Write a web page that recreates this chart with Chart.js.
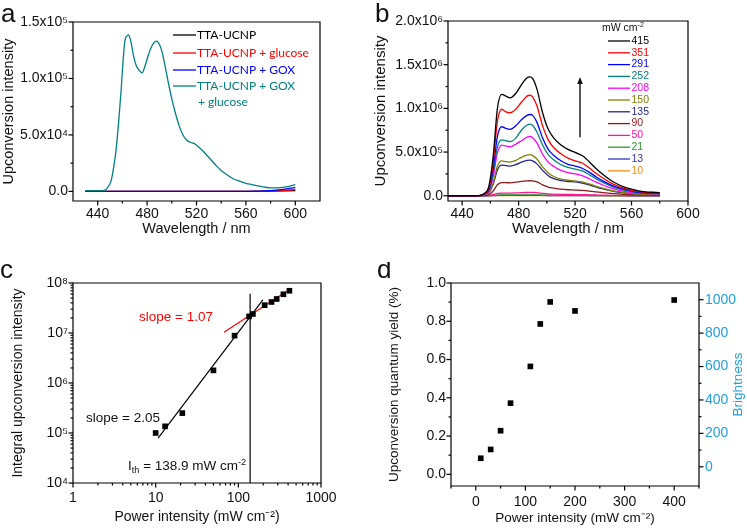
<!DOCTYPE html>
<html><head><meta charset="utf-8">
<script src="https://cdn.jsdelivr.net/npm/chart.js@4.4.1/dist/chart.umd.min.js"></script>
<style>
html,body{margin:0;padding:0;background:#fff;}
#wrap{position:relative;width:747px;height:529px;overflow:hidden;background:#fff;}
#wrap canvas{position:absolute;}
</style></head><body>
<div id="wrap">
<canvas id="ca" width="374" height="262" style="left:0px;top:0px"></canvas>
<canvas id="cb" width="373" height="262" style="left:374px;top:0px"></canvas>
<canvas id="cc" width="374" height="267" style="left:0px;top:262px"></canvas>
<canvas id="cd" width="373" height="267" style="left:374px;top:262px"></canvas>
</div>
<script>
// ---------------- Panel a data ----------------
const wlA = [430,440,445,449,451,453,455,457,459,460,462,464,465,467,469,471,473,476,478,480,482,484,486,488,490,492,494,496,498,500,503,506,509,512,515,518,521,525,530,535,540,545,550,555,560,565,570,575,580,585,590,595,600];
const aGoxGlucose = [600,600,800,5000,1.0e4,2.2e4,3.8e4,6.2e4,9.0e4,1.07e5,1.33e5,1.38e5,1.385e5,1.32e5,1.2e5,1.12e5,1.08e5,1.05e5,1.1e5,1.17e5,1.24e5,1.29e5,1.32e5,1.33e5,1.3e5,1.24e5,1.14e5,1.03e5,9.2e4,8.2e4,6.9e4,5.8e4,5.0e4,4.55e4,4.35e4,4.25e4,4.0e4,3.6e4,3.0e4,2.4e4,1.85e4,1.45e4,1.1e4,9.0e3,7.2e3,6.0e3,4.8e3,3.8e3,3.2e3,3.2e3,3.6e3,4.5e3,6.0e3];
const wlAflat = [430,500,560,580,590,600];
const aUcnp = [0,0,0,200,400,800];
const aGlucose = [0,0,0,300,800,1500];
const aGox = [0,0,0,700,1800,3400];
const aNames = ['TTA-UCNP','TTA-UCNP + glucose','TTA-UCNP + GOX','TTA-UCNP + GOX','+ glucose'];
const aColors = ['#000000','#FF0000','#0000FF','#008080'];
const aYTicks = [0,50000,100000,150000];
const aYLabels = ['0.0','5.0x10⁴','1.0x10⁵','1.5x10⁵'];
const aYMinor = [25000,75000,125000];
const aXTicks = [440,480,520,560,600];
const aXLabels = ['440','480','520','560','600'];
const aXMinor = [460,500,540,580];

// ---------------- Panel b data ----------------
const wlB = [430,445,452,456,459,462,465,468,471,474,478,482,486,488,490,493,497,501,505,510,515,520,525,530,535,540,545,550,555,560,565,570,575,580];
const b415 = [0,0,2e3,3e4,1.1e5,4.5e5,1.0e6,1.16e6,1.14e6,1.12e6,1.17e6,1.27e6,1.35e6,1.36e6,1.34e6,1.22e6,9.5e5,7.6e5,6.6e5,5.8e5,5.3e5,4.96e5,4.6e5,3.9e5,3.1e5,2.4e5,1.8e5,1.35e5,1.0e5,7.5e4,5.5e4,4.5e4,4.0e4,3.5e4];
const b351 = [0,0,2e3,2.5e4,9e4,3.8e5,8.5e5,9.9e5,9.6e5,9.5e5,9.9e5,1.07e6,1.14e6,1.15e6,1.13e6,1.03e6,8.0e5,6.4e5,5.5e5,4.8e5,4.3e5,4.0e5,3.75e5,3.2e5,2.55e5,2.0e5,1.5e5,1.12e5,8.4e4,6.3e4,4.7e4,3.9e4,3.4e4,3.0e4];
const b291 = [0,0,1.5e3,2e4,7.5e4,3.1e5,6.8e5,7.9e5,7.7e5,7.6e5,8.0e5,8.7e5,9.2e5,9.3e5,9.2e5,8.4e5,6.6e5,5.3e5,4.6e5,4.0e5,3.6e5,3.4e5,3.15e5,2.7e5,2.15e5,1.68e5,1.27e5,9.5e4,7.2e4,5.4e4,4.0e4,3.3e4,2.9e4,2.6e4];
const b252 = [0,0,1.3e3,1.7e4,6.3e4,2.6e5,5.6e5,6.4e5,6.3e5,6.2e5,6.6e5,7.5e5,8.1e5,8.2e5,8.05e5,7.3e5,5.8e5,4.7e5,4.1e5,3.55e5,3.25e5,3.05e5,2.85e5,2.42e5,1.93e5,1.5e5,1.13e5,8.5e4,6.3e4,4.8e4,3.6e4,3.0e4,2.6e4,2.3e4];
const b208 = [0,0,1e3,1.4e4,5.2e4,2.2e5,4.9e5,5.8e5,5.7e5,5.6e5,5.9e5,6.3e5,6.7e5,6.8e5,6.65e5,6.05e5,4.75e5,3.85e5,3.35e5,2.9e5,2.65e5,2.5e5,2.3e5,1.95e5,1.55e5,1.2e5,9.0e4,6.8e4,5.0e4,3.8e4,2.9e4,2.4e4,2.1e4,1.9e4];
const b150 = [0,0,700,1e4,3.6e4,1.5e5,3.4e5,4.0e5,3.9e5,3.85e5,4.05e5,4.4e5,4.65e5,4.7e5,4.6e5,4.2e5,3.3e5,2.6e5,2.2e5,1.9e5,1.78e5,1.7e5,1.58e5,1.35e5,1.08e5,8.4e4,6.3e4,4.7e4,3.5e4,2.6e4,2.0e4,1.6e4,1.4e4,1.3e4];
const b135 = [0,0,600,9e3,3.2e4,1.3e5,2.95e5,3.5e5,3.45e5,3.4e5,3.55e5,3.85e5,4.05e5,4.08e5,4.0e5,3.65e5,2.9e5,2.3e5,1.95e5,1.72e5,1.63e5,1.58e5,1.45e5,1.25e5,1.0e5,7.8e4,5.8e4,4.3e4,3.2e4,2.4e4,1.8e4,1.5e4,1.3e4,1.2e4];
const b90 = [0,0,300,4e3,1.4e4,5.5e4,1.25e5,1.5e5,1.5e5,1.48e5,1.55e5,1.65e5,1.71e5,1.72e5,1.7e5,1.58e5,1.25e5,1.0e5,8.8e4,7.6e4,6.9e4,6.5e4,6.1e4,5.4e4,4.5e4,3.6e4,2.8e4,2.1e4,1.6e4,1.2e4,9e3,7e3,6e3,5e3];
const b50 = [0,0,100,1e3,3e3,1.2e4,2.6e4,3.1e4,3.1e4,3.05e4,3.2e4,3.5e4,3.75e4,3.8e4,3.75e4,3.5e4,2.8e4,2.2e4,1.9e4,1.65e4,1.5e4,1.4e4,1.3e4,1.1e4,9e3,7e3,5.5e3,4e3,3e3,2.3e3,1.8e3,1.5e3,1.3e3,1.2e3];
const b21 = [0,0,0,300,900,3.5e3,7.5e3,9e3,9e3,8.8e3,9.3e3,1.02e4,1.09e4,1.1e4,1.08e4,1.0e4,8e3,6.4e3,5.5e3,4.8e3,4.4e3,4.1e3,3.8e3,3.2e3,2.6e3,2e3,1.6e3,1.2e3,900,700,500,400,400,300];
const b13 = [0,0,0,100,400,1.6e3,3.4e3,4.1e3,4.1e3,4e3,4.2e3,4.6e3,4.9e3,5e3,4.9e3,4.5e3,3.6e3,2.9e3,2.5e3,2.2e3,2e3,1.9e3,1.7e3,1.5e3,1.2e3,900,700,500,400,300,250,200,150,150];
const b10 = [0,0,0,50,150,600,1.3e3,1.6e3,1.6e3,1.55e3,1.65e3,1.8e3,1.95e3,2e3,1.95e3,1.8e3,1.45e3,1.15e3,1e3,880,800,750,700,600,480,370,280,210,160,120,100,80,70,60];
const bSeries = [b415,b351,b291,b252,b208,b150,b135,b90,b50,b21,b13,b10];
const bPowers = ['415','351','291','252','208','150','135','90','50','21','13','10'];
const bColors = ['#000000','#FF0000','#0000FF','#008080','#FF00FF','#808000','#25258F','#8B1A1A','#FF1493','#2A9A2A','#3434C0','#FF8C1A'];
const bYTicks = [0,500000,1000000,1500000,2000000];
const bYLabels = ['0.0','5.0x10⁵','1.0x10⁶','1.5x10⁶','2.0x10⁶'];
const bYMinor = [250000,750000,1250000,1750000];
const bXTicks = [440,480,520,560,600];
const bXLabels = ['440','480','520','560','600'];
const bXMinor = [460,500,540,580];

// ---------------- Panel c data ----------------
const cPower = [10,13,21,50,90,135,150,208,252,291,351,415];
const cIntegral = [1.0e5,1.36e5,2.5e5,1.79e6,8.85e6,2.15e7,2.4e7,3.6e7,4.17e7,4.79e7,5.95e7,7.0e7];
const cFitLowX = [10.7,198];
const cFitLowY = [7.9e4,4.6e7];
const cFitHighX = [67,425];
const cFitHighY = [1.03e7,7.6e7];
const cThreshX = [138.9,138.9];
const cThreshY = [1e4,6.1e7];
const cXTicks = [1,10,100,1000];
const cXLabels = ['1','10','100','1000'];
const cYTicks = [1e4,1e5,1e6,1e7,1e8];
const cYLabels = ['10⁴','10⁵','10⁶','10⁷','10⁸'];

// ---------------- Panel d data ----------------
const dPower = [10,30,50,70,110,130,150,200,400];
const dQY = [0.084,0.130,0.228,0.372,0.564,0.786,0.901,0.854,0.911];
const dXTicks = [0,100,200,300,400];
const dXLabels = ['0','100','200','300','400'];
const dXMinor = [-50,50,150,250,350,450];
const dYTicks = [0,0.2,0.4,0.6,0.8,1.0];
const dYLabels = ['0.0','0.2','0.4','0.6','0.8','1.0'];
const dYMinor = [0.1,0.3,0.5,0.7,0.9];
const dY2Ticks = [0,200,400,600,800,1000];
const dY2Labels = ['0','200','400','600','800','1000'];
const dY2Minor = [100,300,500,700,900];

// ---------------- helpers ----------------
const FONT = "'Liberation Sans', Arial, Helvetica, sans-serif";
const LEG_FONT = "Lato, 'Open Sans', sans-serif";
const INK = '#111111';
const BLUE_AX = '#1E9FE3';
const AX_W = 1.2;
const pts = (xs, ys) => xs.map((x, i) => ({x: x, y: ys[i]}));

function scaleCfg(o) {
  return {
    type: o.type || 'linear',
    position: o.position,
    min: o.min, max: o.max,
    border: {display: false},
    grid: {display: false, drawTicks: false, tickLength: 0},
    ticks: {
      color: o.tickColor || INK,
      font: {family: FONT, size: o.tickSize || 14},
      padding: o.tickPad !== undefined ? o.tickPad : 5,
      autoSkip: false, maxRotation: 0, minRotation: 0,
      callback: (v, i) => o.labels[i]
    },
    title: o.title ? {display: true, text: o.title, color: INK,
      font: {family: FONT, size: o.titleSize || 14.5, lineHeight: 1}, padding: o.titlePad} : {display: false},
    afterBuildTicks: (s) => { s.ticks = o.ticks.map(v => ({value: v})); },
    afterFit: (s) => {
      if (s.isHorizontal()) s.height = o.size; else s.width = o.size;
      s.paddingLeft = 0; s.paddingRight = 0; s.paddingTop = 0; s.paddingBottom = 0;
    }
  };
}

function decorPlugin(major, minor, extra) {
  return {
    id: 'decor',
    afterDraw(chart) {
      const ctx = chart.ctx, ca = chart.chartArea;
      ctx.save();
      ctx.strokeStyle = '#000000'; ctx.lineWidth = AX_W; ctx.setLineDash([]);
      const L = Math.round(ca.left), R = Math.round(ca.right), T = Math.round(ca.top), B = Math.round(ca.bottom);
      const tick = (set, len) => {
        for (const id in set) {
          const s = chart.scales[id];
          for (const v of set[id]) {
            const p = s.getPixelForValue(v);
            ctx.beginPath();
            if (s.position === 'left') { ctx.moveTo(L, p); ctx.lineTo(L - len, p); }
            else if (s.position === 'right') { ctx.moveTo(R, p); ctx.lineTo(R + len, p); }
            else { ctx.moveTo(p, B); ctx.lineTo(p, B + len); }
            ctx.stroke();
          }
        }
      };
      tick(major, 4.5);
      tick(minor, 2.5);
      ctx.beginPath();
      ctx.rect(L, T, R - L, B - T);
      ctx.stroke();
      if (extra) extra(chart, ctx);
      ctx.restore();
    }
  };
}

function logMinor(lo, hi) {
  const out = [];
  for (let d = lo; d < hi; d *= 10) for (let k = 2; k <= 9; k++) out.push(d * k);
  return out;
}

function rich(ctx, x, y, parts, size, color, family) {
  ctx.fillStyle = color; ctx.textBaseline = 'alphabetic'; ctx.textAlign = 'left';
  for (const p of parts) {
    const s = (p.sup || p.sub) ? size * 0.68 : size;
    ctx.font = s + 'px ' + family;
    const dy = p.sup ? -size * 0.4 : (p.sub ? size * 0.25 : 0);
    ctx.fillText(p.t, x, y + dy);
    x += ctx.measureText(p.t).width;
  }
  return x;
}

function panelLetter(ctx, letter, x, y) {
  ctx.fillStyle = INK; ctx.font = '26px ' + FONT; ctx.textAlign = 'left'; ctx.textBaseline = 'alphabetic';
  ctx.fillText(letter, x, y);
}

const baseOpts = {
  responsive: false, animation: false, events: [],
  plugins: {legend: {display: false}, tooltip: {enabled: false}}
};

// ---------------- Chart a ----------------
new Chart(document.getElementById('ca'), {
  type: 'line',
  data: {datasets: [
    {data: pts(wlAflat, aUcnp), borderColor: aColors[0], borderWidth: 1.3, pointRadius: 0, order: 3},
    {data: pts(wlAflat, aGlucose), borderColor: aColors[1], borderWidth: 1.3, pointRadius: 0, order: 2},
    {data: pts(wlAflat, aGox), borderColor: aColors[2], borderWidth: 1.3, pointRadius: 0, order: 1, cubicInterpolationMode: 'monotone'},
    {data: pts(wlA, aGoxGlucose), borderColor: aColors[3], borderWidth: 1.3, pointRadius: 0, order: 0, cubicInterpolationMode: 'monotone'}
  ]},
  options: Object.assign({}, baseOpts, {
    layout: {padding: {left: 0, right: 54, top: 22, bottom: 0}},
    scales: {
      x: scaleCfg({position: 'bottom', min: 420, max: 620, ticks: aXTicks, labels: aXLabels, size: 61,
        title: 'Wavelength / nm', titleSize: 14.5, titlePad: {top: 0, bottom: 26}}),
      y: scaleCfg({position: 'left', min: -8500, max: 150000, ticks: aYTicks, labels: aYLabels, size: 73,
        title: 'Upconversion intensity', titleSize: 14.5, titlePad: {top: 1.5, bottom: 0}})
    }
  }),
  plugins: [decorPlugin({x: aXTicks, y: aYTicks}, {x: aXMinor, y: aYMinor}, (chart, ctx) => {
    panelLetter(ctx, 'a', 1, 22);
    const rows = [35, 53, 70, 86];
    ctx.lineWidth = 1.3;
    for (let i = 0; i < 4; i++) {
      ctx.strokeStyle = aColors[i];
      ctx.beginPath(); ctx.moveTo(173, rows[i]); ctx.lineTo(196, rows[i]); ctx.stroke();
      ctx.fillStyle = aColors[i]; ctx.font = '12px ' + LEG_FONT; ctx.textBaseline = 'middle';
      ctx.fillText(aNames[i], 197, rows[i]);
    }
    ctx.fillStyle = aColors[3];
    ctx.fillText(aNames[4], 198, 102);
  })]
});

// ---------------- Chart b ----------------
new Chart(document.getElementById('cb'), {
  type: 'line',
  data: {datasets: bSeries.map((s, i) => ({
    data: pts(wlB, s), borderColor: bColors[i], borderWidth: 1.3, pointRadius: 0, cubicInterpolationMode: 'monotone'
  }))},
  options: Object.assign({}, baseOpts, {
    layout: {padding: {left: 0, right: 59, top: 21, bottom: 0}},
    scales: {
      x: scaleCfg({position: 'bottom', min: 430, max: 600, ticks: bXTicks, labels: bXLabels, size: 61,
        title: 'Wavelength / nm', titleSize: 15, titlePad: {top: 0, bottom: 26}}),
      y: scaleCfg({position: 'left', min: -60000, max: 2000000, ticks: bYTicks, labels: bYLabels, size: 74,
        title: 'Upconversion intensity', titleSize: 15, titlePad: {top: -1, bottom: 0}})
    }
  }),
  plugins: [decorPlugin({x: bXTicks, y: bYTicks}, {x: bXMinor, y: bYMinor}, (chart, ctx) => {
    panelLetter(ctx, 'b', 1, 22);
    rich(ctx, 228, 31, [{t: 'mW cm'}, {t: '-2', sup: true}], 10.5, INK, FONT);
    for (let i = 0; i < bPowers.length; i++) {
      const y = 41 + i * 11.8;
      ctx.strokeStyle = bColors[i]; ctx.lineWidth = 1.3;
      ctx.beginPath(); ctx.moveTo(234, y); ctx.lineTo(256, y); ctx.stroke();
      ctx.fillStyle = bColors[i]; ctx.font = '10.5px ' + FONT; ctx.textBaseline = 'middle'; ctx.textAlign = 'left';
      ctx.fillText(bPowers[i], 257.5, y);
    }
    const sx = chart.scales.x, sy = chart.scales.y;
    const ax = sx.getPixelForValue(523.5);
    const y0 = sy.getPixelForValue(6.7e5), y1 = sy.getPixelForValue(1.36e6);
    ctx.strokeStyle = INK; ctx.fillStyle = INK; ctx.lineWidth = 1.4;
    ctx.beginPath(); ctx.moveTo(ax, y0); ctx.lineTo(ax, y1 + 5); ctx.stroke();
    ctx.beginPath(); ctx.moveTo(ax, y1); ctx.lineTo(ax - 2.8, y1 + 7); ctx.lineTo(ax + 2.8, y1 + 7); ctx.closePath(); ctx.fill();
  })]
});

// ---------------- Chart c ----------------
new Chart(document.getElementById('cc'), {
  type: 'line',
  data: {datasets: [
    {data: pts(cPower, cIntegral), showLine: false, pointStyle: 'rect', pointRadius: 4, pointBackgroundColor: '#000', pointBorderColor: '#000', pointBorderWidth: 0, order: 0},
    {data: pts(cFitLowX, cFitLowY), borderColor: '#000', borderWidth: 1.2, pointRadius: 0, order: 2},
    {data: pts(cFitHighX, cFitHighY), borderColor: '#FF0000', borderWidth: 1.2, pointRadius: 0, order: 1},
    {data: pts(cThreshX, cThreshY), borderColor: '#000', borderWidth: 1.2, pointRadius: 0, order: 3}
  ]},
  options: Object.assign({}, baseOpts, {
    layout: {padding: {left: 0, right: 53, top: 21, bottom: 0}},
    scales: {
      x: scaleCfg({type: 'logarithmic', position: 'bottom', min: 1, max: 1000, ticks: cXTicks, labels: cXLabels, size: 46,
        title: 'Power intensity (mW cm⁻²)', titleSize: 14, titlePad: {top: 0, bottom: 4.5}, tickPad: 7}),
      y: scaleCfg({type: 'logarithmic', position: 'left', min: 1e4, max: 1e8, ticks: cYTicks, labels: cYLabels, size: 73,
        title: 'Integral upconversion intensity', titleSize: 14, titlePad: {top: 11.5, bottom: 0}})
    }
  }),
  plugins: [decorPlugin({x: cXTicks, y: cYTicks}, {x: logMinor(1, 1000), y: logMinor(1e4, 1e8)}, (chart, ctx) => {
    panelLetter(ctx, 'c', 0, 16);
    rich(ctx, 139, 59, [{t: 'slope = 1.07'}], 13.5, '#FF0000', FONT);
    rich(ctx, 86, 160, [{t: 'slope = 2.05'}], 13.5, INK, FONT);
    rich(ctx, 128, 208, [{t: 'I'}, {t: 'th', sub: true}, {t: ' = 138.9 mW cm'}, {t: '-2', sup: true}], 13.5, INK, FONT);
  })]
});

// ---------------- Chart d ----------------
new Chart(document.getElementById('cd'), {
  type: 'line',
  data: {datasets: [
    {data: pts(dPower, dQY), showLine: false, pointStyle: 'rect', pointRadius: 4, pointBackgroundColor: '#000', pointBorderColor: '#000', pointBorderWidth: 0, yAxisID: 'y'}
  ]},
  options: Object.assign({}, baseOpts, {
    layout: {padding: {left: 0, right: 0, top: 21, bottom: 0}},
    scales: {
      x: scaleCfg({position: 'bottom', min: -50, max: 450, ticks: dXTicks, labels: dXLabels, size: 43,
        title: 'Power intensity (mW cm⁻²)', titleSize: 13.5, titlePad: {top: 0, bottom: 3.8}, tickPad: 8}),
      y: scaleCfg({position: 'left', min: -0.061, max: 1.0, ticks: dYTicks, labels: dYLabels, size: 77,
        title: 'Upconversion quantum yield (%)', titleSize: 13.5, titlePad: {top: 14, bottom: 0}}),
      y2: scaleCfg({position: 'right', min: -115, max: 1100, ticks: dY2Ticks, labels: dY2Labels, size: 48,
        tickColor: BLUE_AX, tickPad: 6})
    }
  }),
  plugins: [decorPlugin({x: dXTicks, y: dYTicks, y2: dY2Ticks}, {x: dXMinor, y: dYMinor, y2: dY2Minor}, (chart, ctx) => {
    panelLetter(ctx, 'd', 3, 16);
    const ca = chart.chartArea;
    ctx.save();
    ctx.translate(364, (ca.top + ca.bottom) / 2);
    ctx.rotate(-Math.PI / 2);
    ctx.fillStyle = BLUE_AX; ctx.font = '13.5px ' + FONT; ctx.textAlign = 'center'; ctx.textBaseline = 'middle';
    ctx.fillText('Brightness', 0, 0);
    ctx.restore();
  })]
});
</script>
</body></html>
